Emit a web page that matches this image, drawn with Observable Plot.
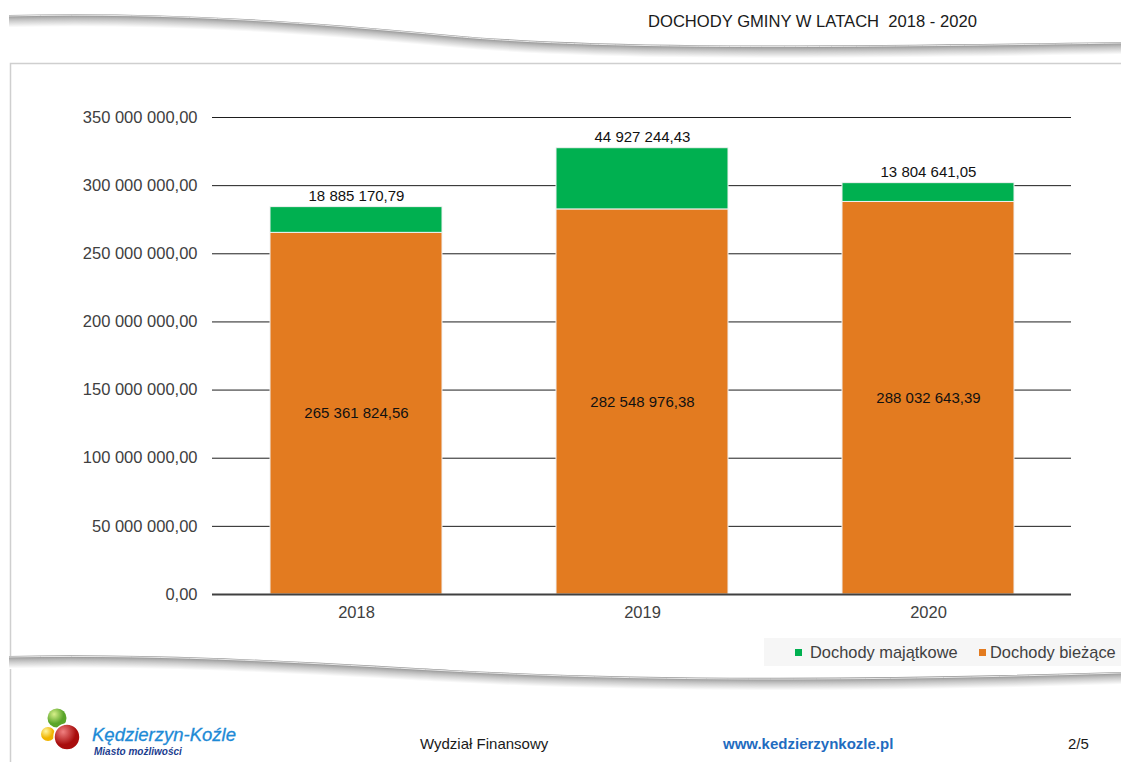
<!DOCTYPE html>
<html>
<head>
<meta charset="utf-8">
<script src="https://cdn.jsdelivr.net/npm/d3@7"></script>
<script src="https://cdn.jsdelivr.net/npm/@observablehq/plot@0.6"></script>
<style>
  html, body { margin: 0; padding: 0; background: #fff; }
  #page { position: relative; width: 1121px; height: 762px; overflow: hidden; font-family: "Liberation Sans", Arial, sans-serif; }
  #deco { position: absolute; left: 0; top: 0; }
  #chart { position: absolute; left: 0; top: 70px; }
  .t { position: absolute; white-space: pre; line-height: 20px; }
</style>
</head>
<body>
<div id="page">
  <svg id="deco" width="1121" height="762"></svg>
  <div id="chart"></div>
  <div class="t" style="left:648px; top:12px; font-size:16.6px; color:#1a1a1a;">DOCHODY GMINY W LATACH  2018 - 2020</div>
  <div id="legend" style="position:absolute; left:764px; top:638px; width:357px; height:28px; background:#f6f6f6;"></div>
  <div class="t" style="left:420px; top:734px; font-size:15px; color:#1a1a1a;">Wydział Finansowy</div>
  <div class="t" style="left:723px; top:734px; font-size:15px; font-weight:bold; color:#1f6cc0;">www.kedzierzynkozle.pl</div>
  <div class="t" style="left:1068px; top:734px; font-size:15px; color:#1a1a1a;">2/5</div>
  <div class="t" style="left:92px; top:725px; font-size:18.5px; font-style:italic; color:#1e8ad6; -webkit-text-stroke:0.3px #1e8ad6;">Kędzierzyn-Koźle</div>
  <div class="t" style="left:94px; top:744px; font-size:10px; line-height:16px; font-style:italic; font-weight:bold; color:#1b3d8f;">Miasto możliwości</div>
</div>
<script>
// ---- data ----
const years = ["2018", "2019", "2020"];
const seriesNames = ["Dochody bieżące", "Dochody majątkowe"];
const biezace = [265361824.56, 282548976.38, 288032643.39];
const majatkowe = [18885170.79, 44927244.43, 13804641.05];
const yTicks = [0, 50e6, 100e6, 150e6, 200e6, 250e6, 300e6, 350e6];
const seriesColors = ["#E37B20", "#00B050"];
const legendOrder = ["Dochody majątkowe", "Dochody bieżące"];

const fmt = d3.formatLocale({decimal: ",", thousands: " ", grouping: [3], currency: ["", ""]}).format(",.2f");

const rows = years.flatMap((y, i) => [
  {year: y, series: seriesNames[0], value: biezace[i]},
  {year: y, series: seriesNames[1], value: majatkowe[i]}
]);
const totals = years.map((y, i) => ({year: y, total: biezace[i] + majatkowe[i], value: majatkowe[i]}));

const chart = Plot.plot({
  width: 1121,
  height: 570,
  marginLeft: 212,
  marginRight: 50,
  marginTop: 47,
  marginBottom: 46,
  style: {background: "transparent", fontFamily: "Liberation Sans, Arial, sans-serif"},
  x: {domain: years, paddingInner: 0.4, paddingOuter: 0.2, label: null},
  y: {domain: [0, 350e6], label: null},
  color: {domain: seriesNames, range: seriesColors},
  marks: [
    Plot.ruleY(yTicks.filter(d => d > 0), {stroke: "#1e1e1e", strokeWidth: 1}),
    Plot.barY(rows, {x: "year", y: "value", fill: "series", order: seriesNames, stroke: "#f2f2f2", strokeWidth: 1}),
    Plot.text(rows.filter(d => d.series === seriesNames[0]),
      Plot.stackY({x: "year", y: "value", text: d => fmt(d.value), fontSize: 15, fill: "#111"})),
    Plot.text(totals, {x: "year", y: "total", text: d => fmt(d.value), dy: -11, fontSize: 15, fill: "#111"}),
    Plot.ruleY([0], {stroke: "#404040", strokeWidth: 2}),
    Plot.axisY(yTicks, {tickSize: 0, tickPadding: 15, tickFormat: fmt, fontSize: 16.5, fill: "#404040", label: null}),
    Plot.axisX({tickSize: 0, tickPadding: 12, fontSize: 16.5, fill: "#404040", label: null})
  ]
});
document.getElementById("chart").appendChild(chart);

// ---- legend ----
const legend = document.getElementById("legend");
const legendPos = [{sq: 31, tx: 46}, {sq: 215, tx: 226}];
legendOrder.forEach((name, i) => {
  const c = seriesColors[seriesNames.indexOf(name)];
  const sq = document.createElement("div");
  sq.style.cssText = `position:absolute; left:${legendPos[i].sq}px; top:11px; width:7px; height:7px; background:${c};`;
  legend.appendChild(sq);
  const tx = document.createElement("div");
  tx.className = "t";
  tx.style.cssText = `left:${legendPos[i].tx}px; top:4px; font-size:16.4px; color:#404040;`;
  tx.textContent = name;
  legend.appendChild(tx);
});

// ---- decoration (page frame, swooshes, logo) ----
const deco = d3.select("#deco");
const defs = deco.append("defs");
deco.append("path").attr("d", "M10.5,762 V63.5 H1121").attr("fill", "none").attr("stroke", "#cfcfcf").attr("stroke-width", 1.5);
function swoosh(d) {
  const n = 11;
  for (let i = n; i >= 0; i--) {
    const c = d3.interpolateRgb("#9a9a9a", "#ffffff")(Math.pow(i / n, 0.8));
    deco.append("path").attr("d", d).attr("transform", `translate(0,${i})`)
      .attr("fill", "none").attr("stroke", c).attr("stroke-width", 2.2);
  }
  deco.append("path").attr("d", d).attr("fill", "none").attr("stroke", "#e6e6e6").attr("stroke-width", 1);
}
swoosh("M9,16 C 180,12 320,24 450,36 S 760,49 1121,43");
swoosh("M9,657 C 180,654 320,664 450,671 S 780,684 1121,673");
// logo
const g1 = defs.append("radialGradient").attr("id", "gG").attr("cx", "35%").attr("cy", "30%");
g1.append("stop").attr("offset", "0%").attr("stop-color", "#d8f08a");
g1.append("stop").attr("offset", "100%").attr("stop-color", "#5aa52a");
const g2 = defs.append("radialGradient").attr("id", "gY").attr("cx", "35%").attr("cy", "30%");
g2.append("stop").attr("offset", "0%").attr("stop-color", "#fff6a0");
g2.append("stop").attr("offset", "100%").attr("stop-color", "#f0b400");
const g3 = defs.append("radialGradient").attr("id", "gR").attr("cx", "35%").attr("cy", "30%");
g3.append("stop").attr("offset", "0%").attr("stop-color", "#f08080");
g3.append("stop").attr("offset", "100%").attr("stop-color", "#a80d0d");
deco.append("circle").attr("cx", 57).attr("cy", 718).attr("r", 9.5).attr("fill", "url(#gG)");
deco.append("circle").attr("cx", 48).attr("cy", 734).attr("r", 7).attr("fill", "url(#gY)");
deco.append("circle").attr("cx", 67).attr("cy", 737).attr("r", 13).attr("fill", "url(#gR)").attr("stroke", "#fff").attr("stroke-width", 1.5);
</script>
</body>
</html>
